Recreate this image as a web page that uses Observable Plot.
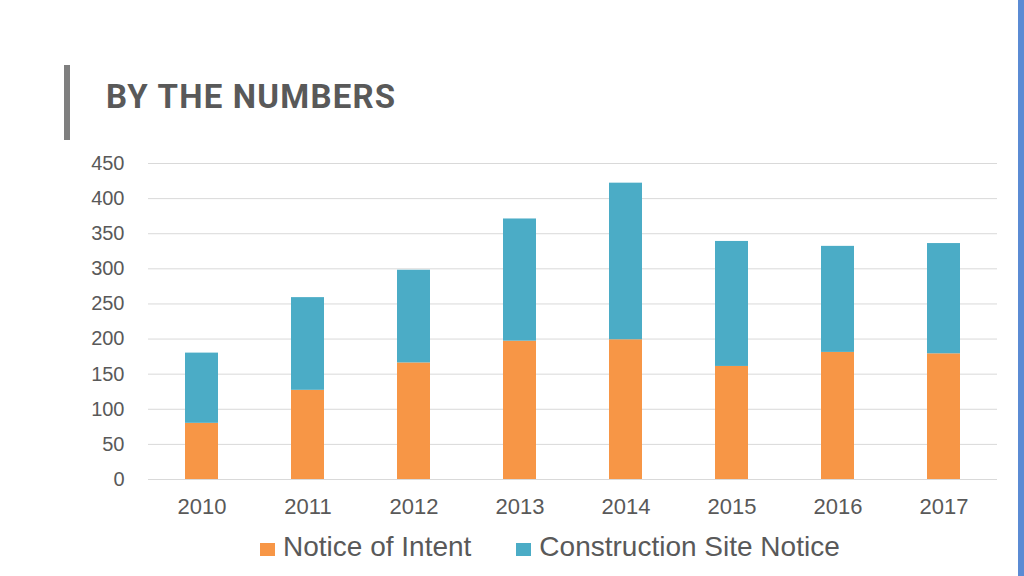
<!DOCTYPE html>
<html>
<head>
<meta charset="utf-8">
<script src="https://cdn.jsdelivr.net/npm/d3@7"></script>
<script src="https://cdn.jsdelivr.net/npm/@observablehq/plot@0.6"></script>
<style>
  html, body { margin: 0; padding: 0; background: #fff; }
  body { width: 1024px; height: 576px; position: relative; overflow: hidden; font-family: "Liberation Sans", Arial, sans-serif; }
  #accent { position: absolute; left: 64px; top: 65px; width: 6px; height: 75px; background: #7f7f7f; }
  #title { position: absolute; left: 106px; top: 80px; font-family: Roboto, "Liberation Sans", sans-serif; font-weight: 700; font-size: 33px; line-height: 33px; letter-spacing: 1.2px; color: #595959; white-space: nowrap; }
  #edge { position: absolute; right: 0; top: 0; width: 6px; height: 576px; background: #5b8bd4; }
  #chart { position: absolute; left: 0; top: 140px; }
  #legend { position: absolute; left: 260px; top: 533px; display: flex; align-items: baseline; font-size: 28px; line-height: 28px; color: #595959; white-space: nowrap; }
  .item { display: flex; align-items: baseline; margin-right: 45px; }
  .sw { display: inline-block; width: 15px; height: 13px; margin-right: 8px; }
</style>
</head>
<body>
<div id="accent"></div>
<div id="title">BY THE NUMBERS</div>
<div id="chart"></div>
<div id="legend"></div>
<div id="edge"></div>
<script>
const years = ["2010", "2011", "2012", "2013", "2014", "2015", "2016", "2017"];
const noticeOfIntent = [80, 127, 166, 197, 199, 161, 181, 179];
const constructionSiteNotice = [100, 132, 132, 174, 223, 178, 151, 157];
const seriesNames = ["Notice of Intent", "Construction Site Notice"];
const seriesColors = ["#f79646", "#4bacc6"];
const yTicks = [0, 50, 100, 150, 200, 250, 300, 350, 400, 450];

const seriesValues = [noticeOfIntent, constructionSiteNotice];
const data = years.flatMap((yr, i) =>
  seriesNames.map((s, k) => ({year: yr, series: s, value: seriesValues[k][i]}))
);

const chart = Plot.plot({
  width: 1024,
  height: 390,
  marginLeft: 148,
  marginRight: 27,
  marginTop: 23,
  marginBottom: 51,
  style: {fontFamily: "Liberation Sans, Arial, sans-serif", color: "#595959", background: "transparent"},
  x: {domain: years, paddingInner: 0.69, paddingOuter: 0.345, label: null},
  y: {domain: [0, 450], label: null},
  color: {domain: seriesNames, range: seriesColors},
  marks: [
    Plot.gridY(yTicks, {stroke: "#d9d9d9", strokeOpacity: 1, strokeWidth: 1}),
    Plot.barY(data, {x: "year", y: "value", fill: "series"}),
    Plot.axisX({tickSize: 0, tickPadding: 19, fontSize: 22, label: null}),
    Plot.axisY({ticks: yTicks, tickSize: 0, tickPadding: 24, fontSize: 20, label: null})
  ]
});
document.getElementById("chart").appendChild(chart);

const legend = document.getElementById("legend");
seriesNames.forEach((name, i) => {
  const item = document.createElement("span");
  item.className = "item";
  const sw = document.createElement("span");
  sw.className = "sw";
  sw.style.background = seriesColors[i];
  const label = document.createElement("span");
  label.textContent = name;
  item.appendChild(sw);
  item.appendChild(label);
  legend.appendChild(item);
});
</script>
</body>
</html>
